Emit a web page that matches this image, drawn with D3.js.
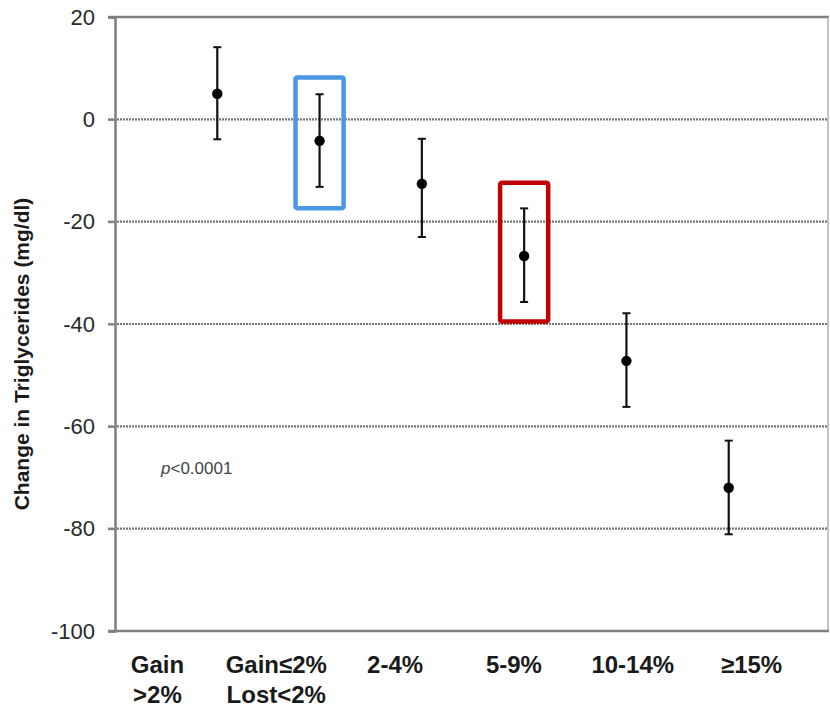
<!DOCTYPE html>
<html>
<head>
<meta charset="utf-8">
<script src="https://cdn.jsdelivr.net/npm/d3@7"></script>
<style>
  html, body { margin: 0; padding: 0; background: #fff; }
  svg { display: block; font-family: "Liberation Sans", Arial, sans-serif; }
</style>
</head>
<body>
<svg id="chart" width="830" height="710"></svg>
<script>
// ---- data ----
const categories = ["Gain\n>2%", "Gain≤2%\nLost<2%", "2-4%", "5-9%", "10-14%", "≥15%"];
const meanChange = [5.0, -4.2, -12.6, -26.7, -47.2, -72.0];
const upperCI = [14.1, 4.9, -3.8, -17.4, -37.9, -62.8];
const lowerCI = [-3.9, -13.2, -23.0, -35.7, -56.2, -81.1];
const yTicks = [20, 0, -20, -40, -60, -80, -100];
const gridValues = [0, -20, -40, -60, -80];
const highlightIndex = [1, 3];
const highlightTop = [8.2, -12.4];
const highlightBottom = [-17.4, -39.5];
const highlightColor = ["#4A98E3", "#C00000"];
const pValueText = "<0.0001";
const yTitle = "Change in Triglycerides (mg/dl)";

// ---- layout ----
const svg = d3.select("#chart");
const plotLeft = 115, plotRight = 828, plotTop = 17, plotBottom = 631;

const x = d3.scaleLinear().domain([0, 7]).range([plotLeft, 831]);
const y = d3.scaleLinear().domain([-100, 20]).range([plotBottom, plotTop]);
const labelBand = d3.scaleBand().domain(categories).range([98, 811]);

// gridlines (dotted)
svg.append("g").selectAll("line").data(gridValues).join("line")
  .attr("x1", plotLeft - 7).attr("x2", plotRight)
  .attr("y1", d => y(d)).attr("y2", d => y(d))
  .attr("stroke", "#777").attr("stroke-width", 2.2)
  .attr("stroke-dasharray", "2,1");

// frame: top and right
svg.append("line").attr("x1", plotLeft - 7).attr("x2", plotRight + 1)
  .attr("y1", y(20)).attr("y2", y(20))
  .attr("stroke", "#7f7f7f").attr("stroke-width", 2.5);
svg.append("line").attr("x1", plotRight).attr("x2", plotRight)
  .attr("y1", y(20)).attr("y2", y(-100))
  .attr("stroke", "#b0b0b0").attr("stroke-width", 1.5);
// bottom axis line
svg.append("line").attr("x1", plotLeft - 7).attr("x2", plotRight + 1)
  .attr("y1", y(-100)).attr("y2", y(-100))
  .attr("stroke", "#7f7f7f").attr("stroke-width", 2.5);

// y axis
const yAxis = d3.axisLeft(y).tickValues(yTicks).tickSize(7).tickPadding(13).tickFormat(d => String(d));
const gy = svg.append("g").attr("transform", `translate(${plotLeft},0)`).call(yAxis);
gy.select(".domain").attr("stroke", "#7f7f7f").attr("stroke-width", 2.5);
gy.selectAll(".tick line").attr("stroke", "#7f7f7f").attr("stroke-width", 2);
gy.selectAll(".tick text")
  .attr("font-family", "'Liberation Sans', Arial, sans-serif")
  .attr("font-size", 22).attr("fill", "#2a2a2a");

// y title
svg.append("text")
  .attr("transform", `translate(29,${(y(20) + y(-100)) / 2 + 30}) rotate(-90)`)
  .attr("text-anchor", "middle")
  .attr("font-size", 21).attr("font-weight", "bold").attr("fill", "#1a1a1a")
  .text(yTitle);

// highlight boxes
svg.append("g").selectAll("rect").data(highlightIndex).join("rect")
  .attr("x", (d) => x(d + 1 - 0.235))
  .attr("width", x(0.47) - x(0))
  .attr("y", (d, i) => y(highlightTop[i]))
  .attr("height", (d, i) => y(highlightBottom[i]) - y(highlightTop[i]))
  .attr("rx", 2)
  .attr("fill", "none")
  .attr("stroke", (d, i) => highlightColor[i])
  .attr("stroke-width", 4.5);

// error bars
const eb = svg.append("g");
const idx = d3.range(categories.length);
eb.selectAll("line.v").data(idx).join("line").attr("class", "v")
  .attr("x1", i => x(i + 1)).attr("x2", i => x(i + 1))
  .attr("y1", i => y(upperCI[i])).attr("y2", i => y(lowerCI[i]))
  .attr("stroke", "#111").attr("stroke-width", 2.2);
eb.selectAll("line.cu").data(idx).join("line").attr("class", "cu")
  .attr("x1", i => x(i + 1) - 4).attr("x2", i => x(i + 1) + 4)
  .attr("y1", i => y(upperCI[i])).attr("y2", i => y(upperCI[i]))
  .attr("stroke", "#111").attr("stroke-width", 2);
eb.selectAll("line.cl").data(idx).join("line").attr("class", "cl")
  .attr("x1", i => x(i + 1) - 4).attr("x2", i => x(i + 1) + 4)
  .attr("y1", i => y(lowerCI[i])).attr("y2", i => y(lowerCI[i]))
  .attr("stroke", "#111").attr("stroke-width", 2);
eb.selectAll("circle").data(idx).join("circle")
  .attr("cx", i => x(i + 1)).attr("cy", i => y(meanChange[i]))
  .attr("r", 5.2).attr("fill", "#000");

// p value
const pt = svg.append("text").attr("x", 161).attr("y", 474)
  .attr("font-size", 17).attr("fill", "#444");
pt.append("tspan").attr("font-style", "italic").text("p");
pt.append("tspan").text(pValueText);

// x category labels
const xl = svg.append("g").selectAll("text").data(categories).join("text")
  .attr("text-anchor", "middle")
  .attr("font-size", 24).attr("font-weight", "bold").attr("fill", "#1a1a1a")
  .attr("transform", d => `translate(${labelBand(d) + labelBand.bandwidth() / 2},673)`);
xl.each(function(d) {
  const lines = d.split("\n");
  d3.select(this).selectAll("tspan").data(lines).join("tspan")
    .attr("x", 0).attr("y", (l, k) => k * 30).text(l => l);
});
</script>
</body>
</html>
